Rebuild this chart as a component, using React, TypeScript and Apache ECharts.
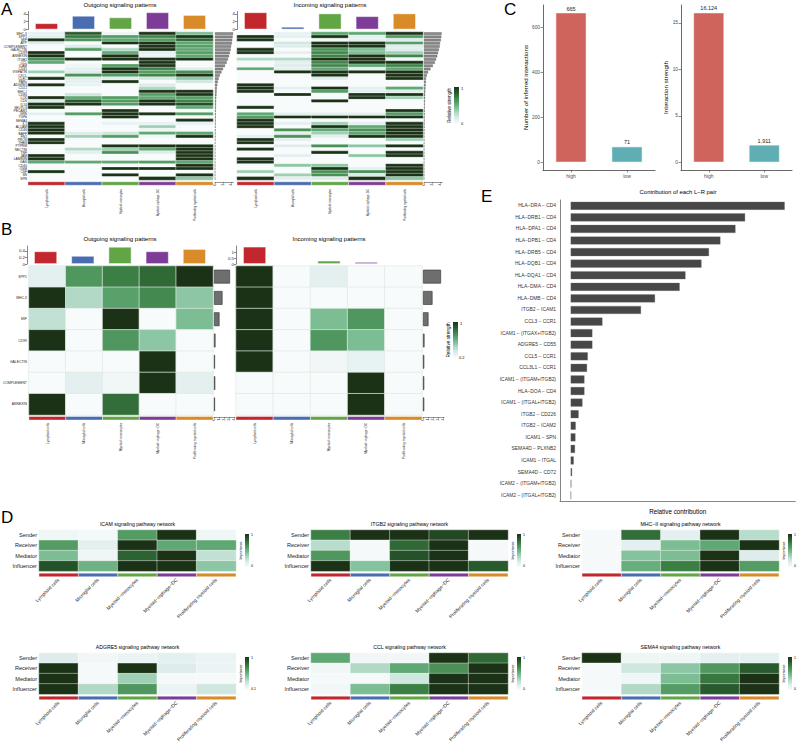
import React, { useEffect, useRef } from "react";
import * as echarts from "echarts";

const FONT = "'Liberation Sans', Arial, Helvetica, sans-serif";

const cellTypes = ["Lymphoid cells", "Microglial cells", "Myeloid−monocytes", "Myeloid−mphage−DC", "Proliferating myeloid cells"];
const cellColors = ["#C1272D", "#4A6DB2", "#62A545", "#7D3C98", "#D98A29"];
const heatPalette = ["#f8fbfb", "#e0eeee", "#b7dccb", "#82c19b", "#5aa36c", "#3d8146", "#28582c", "#1b3217"];

// Panel A
const aPathways = ["MHC-II", "SPP1", "MIF", "APP", "COMPLEMENT", "GALECTIN", "CD99", "ANNEXIN", "ITGB2", "CCL", "ICAM", "CD45", "VISFATIN", "CXCL", "CLEC", "PARs", "ADGRE5", "CD22", "MHC-I", "CD86", "LCK", "CD6", "IL16", "SELPLG", "PECAM1", "GRN", "TGFb", "SEMA4", "IL1", "ALCAM", "CD46", "BAFF", "FN1", "PROS", "THBS", "PTPRM", "NECTIN", "TNF", "JAM", "LAMININ", "GAS", "CD40", "OSM", "CSF", "SN", "SPN"];
const aOutgoing = [
  [0.1, 0.85, 0.05, 1, 0.45], [0.12, 0.75, 0.6, 0.7, 1], [1, 0.65, 0.55, 0.6, 0.8], [0.15, 0, 1, 1, 0.55],
  [0, 0.15, 0, 1, 0.6], [0, 0.6, 0.3, 1, 0.55], [1, 0, 0.55, 0.12, 0.6], [1, 0, 1, 0.08, 0.55],
  [0.65, 1, 1, 1, 1], [0.55, 0, 0, 1, 0], [0, 0.05, 0.6, 1, 0], [0, 0.12, 1, 0.7, 0.15],
  [0.35, 0.15, 1, 0.6, 0.65], [0, 0.65, 0.6, 0.7, 1], [1, 0.15, 0.15, 0.2, 0.4], [0, 0.12, 1, 0, 0.2],
  [1, 0.1, 0, 0.15, 0], [0, 0, 0, 0.3, 0], [0, 0, 0, 1, 1], [0, 0.2, 0, 0.6, 1],
  [1, 0.55, 0.6, 0.55, 0.6], [0.15, 0.85, 0.6, 1, 0.7], [1, 1, 0.6, 1, 0.9], [1, 0, 0, 0, 0.55],
  [0, 0, 1, 0, 0], [0.12, 0.6, 1, 1, 0.6], [0, 0, 1, 0, 0], [0, 0, 0, 0, 1],
  [1, 0, 0.1, 0.1, 0.1], [1, 0, 0, 0.35, 0], [1, 0, 0, 0.05, 0], [1, 0.15, 0.2, 0.55, 0.55],
  [0, 0.35, 0.6, 0.05, 1], [1, 0, 0, 0, 0], [1, 0, 0, 0, 0], [0, 0, 1, 1, 1],
  [0, 0.3, 0.35, 0.55, 1], [0, 0.12, 0.65, 0.15, 1], [1, 0, 0, 0, 1], [1, 0, 0, 0, 1],
  [0.55, 0.55, 0.55, 0.6, 0.55], [0, 0, 0, 0, 1], [0, 0, 1, 1, 1], [1, 0, 0, 0, 0],
  [0, 0, 1, 0, 1], [0, 0, 0, 1, 0.4],
];
const aIncoming = [
  [0, 0.1, 0.55, 0.55, 1], [1, 0.12, 1, 0.12, 0.6], [1, 0, 0.05, 0.12, 0.15], [0, 0.2, 1, 1, 0.6],
  [0, 0.15, 1, 1, 0.15], [1, 0, 0.65, 0.45, 0.15], [1, 0.12, 0.7, 0.45, 0.35], [0, 0, 0.7, 1, 0.7],
  [0.3, 0.3, 1, 1, 0.05], [0.02, 0.12, 0.7, 1, 1], [0, 0.15, 0.7, 0.55, 0.7], [0.55, 0.12, 0.55, 0.12, 0.55],
  [0, 1, 1, 1, 1], [0, 0, 1, 0, 1], [0, 0, 0.15, 0, 1], [0, 0, 0, 0, 0],
  [1, 0, 0, 0, 0], [1, 0.12, 1, 0.12, 0.55], [1, 0, 0.6, 0.12, 0.15], [0, 1, 0, 1, 1],
  [0, 0, 0, 1, 0.35], [0, 0, 1, 0, 0], [0, 0, 0, 0, 0], [1, 0, 0, 0, 0],
  [0, 0, 0, 0, 1], [0.55, 0.12, 0.12, 0.12, 0.6], [0.6, 1, 1, 1, 1], [1, 0, 0, 0, 0],
  [1, 0.12, 0.35, 0.12, 1], [1, 0, 1, 0.55, 1], [0, 0.65, 0.55, 0.65, 1], [0, 0.12, 0.35, 0.55, 1],
  [0.12, 0.65, 0.12, 1, 1], [1, 0.12, 0, 0, 0.35], [1, 0, 0, 0, 0], [0, 0.15, 0.65, 0.4, 1],
  [1, 0, 0, 0, 0], [0, 0, 1, 0, 1], [0, 0.12, 0, 0.4, 1], [1, 0, 0, 0, 0],
  [1, 0, 0, 0, 0], [0, 0.4, 0.4, 0, 1], [0, 0, 1, 0.12, 1], [0.35, 0, 0.65, 0.65, 1],
  [0, 0.35, 0.65, 0.15, 1], [1, 0.12, 0.15, 1, 0.4],
];
const aOutTotals = [4.5, 4.4, 4.3, 4.2, 4.0, 3.9, 3.7, 3.5, 3.2, 2.9, 2.5, 2.0, 1.6, 1.2, 0.9, 0.7, 0.55, 0.45, 0.4, 0.35, 0.3, 0.28, 0.25, 0.22, 0.2, 0.18, 0.16, 0.15, 0.14, 0.13, 0.12, 0.11, 0.1, 0.09, 0.08, 0.08, 0.07, 0.06, 0.06, 0.05, 0.05, 0.04, 0.04, 0.03, 0.03, 0.02];
const aInTotals = [4.4, 4.3, 4.2, 4.0, 3.9, 3.7, 3.5, 3.3, 3.0, 2.7, 2.2, 1.6, 1.0, 0.7, 0.5, 0.45, 0.4, 0.35, 0.3, 0.28, 0.25, 0.22, 0.2, 0.18, 0.16, 0.15, 0.14, 0.13, 0.12, 0.11, 0.1, 0.09, 0.08, 0.08, 0.07, 0.06, 0.06, 0.05, 0.05, 0.04, 0.04, 0.03, 0.03, 0.03, 0.02, 0.02];
const aOutColTotals = [1.6, 3.5, 3.1, 4.4, 3.7];
const aInColTotals = [4.4, 0.7, 4.1, 3.4, 4.1];
const aTopTicks = [0, 2, 4];
const aSideTicks = [0, 2, 4];

// Panel B
const bPathways = ["SPP1", "MHC-II", "MIF", "CD99", "GALECTIN", "COMPLEMENT", "ANNEXIN"];
const bOutgoing = [
  [0.12, 0.62, 0.72, 0.8, 1],
  [1, 0.3, 0.58, 0.68, 0.4],
  [0.25, 0, 1, 0, 0.45],
  [1, 0, 0.62, 0.4, 0],
  [0, 0, 0, 1, 0],
  [0, 0.12, 0.04, 1, 0.12],
  [1, 0, 0.78, 0, 0],
];
const bIncoming = [
  [1, 0, 0.12, 0, 0],
  [1, 0, 0, 0, 0],
  [1, 0, 0.45, 0.62, 0],
  [1, 0, 0.62, 0.45, 0],
  [1, 0, 0.04, 0.1, 0],
  [0, 0, 0, 1, 0],
  [0, 0, 0, 1, 0],
];
const bOutTotals = [3.2, 1.7, 1.1, 0.3, 0.2, 0.25, 0.2];
const bInTotals = [3.6, 1.9, 1.1, 0.3, 0.25, 0.25, 0.25];
const bOutColTotals = [0.39, 0.25, 0.53, 0.39, 0.46];
const bInColTotals = [1.44, 0.02, 0.28, 0.17, 0.02];
const bOutTopTicks = [0, 0.2, 0.4];
const bInTopTicks = [0, 0.5, 1];
const bSideTicks = [0, 1, 2, 3, 4];

// Panel C
const groups = ["high", "low"];
const interactionCounts = [665, 71];
const interactionStrengths = [16.124, 1.911];
const groupColors = ["#CF645C", "#5FAEB3"];
const countTicks = [0, 200, 400, 600];
const strengthTicks = [0, 5, 10, 15];

// Panel E
const lrPairs = ["HLA−DRA − CD4", "HLA−DRB1 − CD4", "HLA−DPA1 − CD4", "HLA−DPB1 − CD4", "HLA−DRB5 − CD4", "HLA−DQB1 − CD4", "HLA−DQA1 − CD4", "HLA−DMA − CD4", "HLA−DMB − CD4", "ITGB2 − ICAM1", "CCL3 − CCR1", "ICAM1 − (ITGAX+ITGB2)", "ADGRE5 − CD55", "CCL5 − CCR1", "CCL3L1 − CCR1", "ICAM1 − (ITGAM+ITGB2)", "HLA−DOA − CD4", "ICAM1 − (ITGAL+ITGB2)", "ITGB2 − CD226", "ITGB2 − ICAM2", "ICAM1 − SPN", "SEMA4D − PLXNB2", "ICAM1 − ITGAL", "SEMA4D − CD72", "ICAM2 − (ITGAM+ITGB2)", "ICAM2 − (ITGAL+ITGB2)"];
const lrContrib = [0.1404, 0.1144, 0.1081, 0.0982, 0.0907, 0.0858, 0.0753, 0.0715, 0.0553, 0.0461, 0.0208, 0.0142, 0.0142, 0.0112, 0.0107, 0.009, 0.009, 0.0077, 0.0052, 0.0033, 0.0031, 0.0028, 0.002, 0.0009, 0.0004, 0.0003];

// Panel D
const roleLabels = ["Sender", "Receiver", "Mediator", "Influencer"];
const dTitles = ["ICAM signaling pathway network", "ITGB2 signaling pathway network", "MHC−II signaling pathway network", "ADGRE5 signaling pathway network", "CCL signaling pathway network", "SEMA4 signaling pathway network"];
const dLegendMin = ["0", "0", "0", "0.1", "0", "0"];
const icamRoles = [[0.06, 0.03, 0.6, 1, 0.06], [0.6, 0.12, 1, 0.55, 0.55], [0.45, 0.05, 0.82, 1, 0.25], [0.88, 0.5, 1, 1, 0.4]];
const itgb2Roles = [[0.72, 1, 1, 0.92, 1], [0.28, 0.02, 0.8, 1, 0.02], [0.62, 0.02, 0.88, 1, 0.02], [1, 0.42, 1, 1, 0.85]];
const mhc2Roles = [[0.02, 0.78, 0.12, 1, 0.28], [0.02, 0.12, 0.45, 0.55, 1], [0.02, 0.42, 0.45, 1, 0.15], [0.02, 0.52, 0.72, 1, 0.6]];
const adgre5Roles = [[0.15, 0.04, 0.08, 0.12, 0.08], [1, 0.02, 1, 0.15, 0.08], [1, 0.02, 0.35, 0.02, 0.02], [1, 0.3, 0.62, 0.08, 0.2]];
const cclRoles = [[0.55, 0.04, 0.04, 1, 0.8], [0.04, 0.3, 0.55, 0.65, 1], [0.02, 0.02, 0.2, 1, 1], [0.04, 0.45, 0.72, 1, 1]];
const sema4Roles = [[1, 0.06, 0.06, 0.12, 0.12], [0.02, 0.2, 0.4, 0.62, 0.85], [0.02, 0.06, 0.45, 0.75, 1], [0.02, 0.3, 0.6, 0.85, 1]];

function buildOption() {
  const grid: any[] = [];
  const xAxis: any[] = [];
  const yAxis: any[] = [];
  const series: any[] = [];
  const graphic: any[] = [];
  const heatIdx: number[] = [];

  const txt = (x: number, y: number, text: string, size: number, o: any = {}) => ({
    type: "text", x, y, rotation: o.rotation || 0, silent: true,
    style: { text, fontSize: size, fontFamily: FONT, fill: o.fill || "#000", align: o.align || "left", verticalAlign: o.va || "top" },
  });

  const addGrid = (left: number, top: number, width: number, height: number) => {
    grid.push({ left, top, width, height, containLabel: false });
    return grid.length - 1;
  };

  const addHeatmap = (o: any) => {
    const gi = addGrid(o.left, o.top, o.width, o.height);
    const xi = xAxis.length;
    xAxis.push({
      type: "category", gridIndex: gi, data: cellTypes,
      axisLine: { show: false }, axisTick: { show: false }, splitLine: { show: false },
      axisLabel: { show: true, interval: 0, rotate: o.colRotate, margin: o.colMargin, fontSize: o.colSize, fontFamily: FONT, color: "#222" },
    });
    const yi = yAxis.length;
    yAxis.push({
      type: "category", gridIndex: gi, data: o.rows, inverse: true,
      axisLine: { show: false }, axisTick: { show: false }, splitLine: { show: false },
      axisLabel: { show: o.rowLabels, interval: 0, margin: o.rowMargin, fontSize: o.rowSize, fontFamily: FONT, color: "#222" },
    });
    const data: any[] = [];
    o.values.forEach((row: number[], r: number) => row.forEach((v: number, c: number) => data.push([c, r, v])));
    heatIdx.push(series.length);
    series.push({
      type: "heatmap", xAxisIndex: xi, yAxisIndex: yi, data, silent: true,
      itemStyle: { borderColor: o.border || "#ffffff", borderWidth: o.borderWidth ?? 0.5 },
    });
    const nRows = o.rows.length;
    series.push({
      type: "custom", xAxisIndex: xi, yAxisIndex: yi, silent: true, clip: false,
      data: cellTypes.map((_, i) => [i, nRows - 1]),
      renderItem: (_p: any, api: any) => {
        const i = api.value(0);
        const c = api.coord([i, api.value(1)]);
        const s = api.size([1, 1]);
        return {
          type: "rect",
          shape: { x: c[0] - s[0] / 2, y: c[1] + s[1] / 2 + o.annoGap, width: s[0], height: o.annoH },
          style: { fill: cellColors[i], stroke: "#ffffff", lineWidth: 0.4 },
        };
      },
    });
  };

  const addTopBars = (left: number, top: number, width: number, height: number, vals: number[], max: number, ticks: number[]) => {
    const gi = addGrid(left, top, width, height);
    const xi = xAxis.length;
    xAxis.push({ type: "category", gridIndex: gi, data: cellTypes, show: false });
    const yi = yAxis.length;
    yAxis.push({
      type: "value", gridIndex: gi, min: 0, max,
      axisLine: { show: true, lineStyle: { color: "#333", width: 0.6 } },
      axisTick: { show: true, length: 2, lineStyle: { color: "#333", width: 0.6 }, customValues: ticks },
      axisLabel: { fontSize: 4.3, margin: 2, fontFamily: FONT, color: "#222", customValues: ticks },
      splitLine: { show: false },
    });
    series.push({
      type: "bar", xAxisIndex: xi, yAxisIndex: yi, barWidth: "62%", silent: true,
      data: vals.map((v, i) => ({ value: v, itemStyle: { color: cellColors[i] } })),
      itemStyle: { borderColor: "rgba(255,255,255,0.6)", borderWidth: 0.8 },
    });
  };

  const addSideBars = (left: number, top: number, width: number, height: number, rows: string[], vals: number[], max: number, ticks: number[], barWidth: string, fill: string, stroke: string, bw: number) => {
    const gi = addGrid(left, top, width, height);
    const xi = xAxis.length;
    xAxis.push({
      type: "value", gridIndex: gi, min: 0, max, offset: 2,
      axisLine: { show: true, lineStyle: { color: "#333", width: 0.5 } },
      axisTick: { show: true, length: 1.5, lineStyle: { color: "#333", width: 0.5 }, customValues: ticks },
      axisLabel: { fontSize: 3.4, margin: 1.5, rotate: 90, fontFamily: FONT, color: "#222", customValues: ticks },
      splitLine: { show: false },
    });
    const yi = yAxis.length;
    yAxis.push({ type: "category", gridIndex: gi, data: rows, inverse: true, show: false });
    series.push({
      type: "bar", xAxisIndex: xi, yAxisIndex: yi, barWidth, silent: true, data: vals,
      itemStyle: { color: fill, borderColor: stroke, borderWidth: bw },
    });
  };

  const legendBar = (x: number, y: number, w: number, h: number) => ({
    type: "rect", silent: true, shape: { x, y, width: w, height: h },
    style: {
      fill: new echarts.graphic.LinearGradient(0, 0, 0, 1,
        heatPalette.slice().reverse().map((c, i, arr) => ({ offset: i / (arr.length - 1), color: c }))),
    },
  });

  // ---------- Panel A ----------
  graphic.push(txt(1, 1, "A", 17));
  graphic.push(txt(120, 5, "Outgoing signaling patterns", 6, { align: "center", va: "middle" }));
  graphic.push(txt(330, 5, "Incoming signaling patterns", 6, { align: "center", va: "middle" }));
  addTopBars(28, 11.5, 185, 18, aOutColTotals, 4.6, aTopTicks);
  addTopBars(237, 11.5, 186, 18, aInColTotals, 4.6, aTopTicks);
  addHeatmap({ left: 28, top: 32, width: 185, height: 148, rows: aPathways, values: aOutgoing, rowLabels: true, rowSize: 3.3, rowMargin: 1, colRotate: 90, colMargin: 9, colSize: 2.8, annoGap: 1.8, annoH: 3.5, borderWidth: 0.35 });
  addHeatmap({ left: 237, top: 32, width: 186, height: 148, rows: aPathways, values: aIncoming, rowLabels: false, rowSize: 3.3, rowMargin: 1, colRotate: 90, colMargin: 9, colSize: 2.8, annoGap: 1.8, annoH: 3.5, borderWidth: 0.35 });
  addSideBars(215, 32, 18.4, 148, aPathways, aOutTotals, 4.6, aSideTicks, "80%", "#8a8a8a", "#444", 0.3);
  addSideBars(424, 32, 18.4, 148, aPathways, aInTotals, 4.6, aSideTicks, "80%", "#8a8a8a", "#444", 0.3);
  graphic.push(legendBar(454, 87, 5, 37));
  graphic.push(txt(461, 88, "1", 4, { va: "middle" }));
  graphic.push(txt(461, 123, "0", 4, { va: "middle" }));
  graphic.push(txt(449, 105.5, "Relative strength", 4.7, { align: "center", va: "middle", rotation: Math.PI / 2 }));

  // ---------- Panel B ----------
  graphic.push(txt(1, 221, "B", 17));
  graphic.push(txt(120, 239, "Outgoing signaling patterns", 6, { align: "center", va: "middle" }));
  graphic.push(txt(329, 239, "Incoming signaling patterns", 6, { align: "center", va: "middle" }));
  addTopBars(27, 246.1, 186, 17.9, bOutColTotals, 0.55, bOutTopTicks);
  addTopBars(236, 246, 186, 18, bInColTotals, 1.5, bInTopTicks);
  addHeatmap({ left: 27, top: 266, width: 186, height: 149, rows: bPathways, values: bOutgoing, rowLabels: true, rowSize: 3.4, rowMargin: 2, colRotate: 90, colMargin: 8, colSize: 3.2, annoGap: 1.5, annoH: 3.5, border: "#dfe9e2", borderWidth: 0.7 });
  addHeatmap({ left: 236, top: 266, width: 186, height: 149, rows: bPathways, values: bIncoming, rowLabels: false, rowSize: 3.4, rowMargin: 2, colRotate: 90, colMargin: 8, colSize: 3.2, annoGap: 1.5, annoH: 3.5, border: "#dfe9e2", borderWidth: 0.7 });
  addSideBars(214, 266, 21, 149, bPathways, bOutTotals, 4.2, bSideTicks, "65%", "#6e6e6e", "#333", 0.6);
  addSideBars(423, 266, 21, 149, bPathways, bInTotals, 4.2, bSideTicks, "65%", "#6e6e6e", "#333", 0.6);
  graphic.push(legendBar(453, 322, 5, 36));
  graphic.push(txt(460, 323, "1", 4, { va: "middle" }));
  graphic.push(txt(459, 357, "0.2", 4, { va: "middle" }));
  graphic.push(txt(448, 340, "Relative strength", 4.7, { align: "center", va: "middle", rotation: Math.PI / 2 }));

  // ---------- Panel C ----------
  graphic.push(txt(504, 1, "C", 17));
  const addGroupBars = (left: number, width: number, vals: number[], min: number, max: number, ticks: number[], name: string, nameGap: number) => {
    const gi = addGrid(left, 5, width, 165);
    const xi = xAxis.length;
    xAxis.push({
      type: "category", gridIndex: gi, data: groups,
      axisLine: { show: true, onZero: false, lineStyle: { color: "#444", width: 0.8 } },
      axisTick: { show: true, alignWithLabel: true, length: 2.5, lineStyle: { color: "#444", width: 0.6 } },
      axisLabel: { fontSize: 5, margin: 3, fontFamily: FONT, color: "#4d4d4d" },
    });
    const yi = yAxis.length;
    yAxis.push({
      type: "value", gridIndex: gi, min, max,
      axisLine: { show: true, lineStyle: { color: "#444", width: 0.8 } },
      axisTick: { show: true, length: 2.5, lineStyle: { color: "#444", width: 0.6 }, customValues: ticks },
      axisLabel: { fontSize: 4.8, margin: 3, fontFamily: FONT, color: "#4d4d4d", customValues: ticks },
      splitLine: { show: false },
      name, nameLocation: "middle", nameGap, nameRotate: 90,
      nameTextStyle: { fontSize: 6.2, fontFamily: FONT, color: "#000" },
    });
    series.push({
      type: "bar", xAxisIndex: xi, yAxisIndex: yi, barWidth: 31, silent: true,
      data: vals.map((v, i) => ({ value: v, itemStyle: { color: groupColors[i] } })),
      itemStyle: { borderColor: "rgba(255,255,255,0.7)", borderWidth: 0.8 },
      label: { show: true, position: "top", distance: 1, fontSize: 5.5, fontFamily: FONT, color: "#222" },
    });
  };
  addGroupBars(543, 112, interactionCounts, -33.25, 698.25, countTicks, "Number of inferred interactions", 14);
  addGroupBars(681, 111, interactionStrengths, -0.806, 16.93, strengthTicks, "Interaction strength", 12);

  // ---------- Panel E ----------
  graphic.push(txt(481, 188, "E", 17));
  graphic.push(txt(678, 192, "Contribution of each L−R pair", 5.9, { align: "center", va: "middle" }));
  {
    const maxV = lrContrib[0];
    const gi = addGrid(560, 200, 235.4, 301);
    const xi = xAxis.length;
    xAxis.push({
      type: "value", gridIndex: gi, min: -0.05 * maxV, max: 1.05 * maxV,
      axisLine: { show: true, onZero: false, lineStyle: { color: "#666", width: 0.8 } },
      axisTick: { show: false }, axisLabel: { show: false }, splitLine: { show: false },
      name: "Relative contribution", nameLocation: "middle", nameGap: 7,
      nameTextStyle: { fontSize: 6.3, fontFamily: FONT, color: "#000" },
    });
    const yi = yAxis.length;
    yAxis.push({
      type: "category", gridIndex: gi, data: lrPairs, inverse: true,
      axisLine: { show: true, onZero: false, lineStyle: { color: "#666", width: 0.8 } },
      axisTick: { show: false },
      axisLabel: { interval: 0, fontSize: 4.9, margin: 4, fontFamily: FONT, color: "#333" },
    });
    series.push({
      type: "bar", xAxisIndex: xi, yAxisIndex: yi, barWidth: 8, silent: true, data: lrContrib,
      itemStyle: { color: "#474747", borderColor: "#777", borderWidth: 0.3 },
    });
  }

  // ---------- Panel D ----------
  graphic.push(txt(1, 509, "D", 17));
  const dValues = [icamRoles, itgb2Roles, mhc2Roles, adgre5Roles, cclRoles, sema4Roles];
  const dLefts = [39, 311, 582];
  const dTops = [530, 653];
  const dW = 197, dH = 41.2;
  dValues.forEach((vals, k) => {
    const left = dLefts[k % 3];
    const top = dTops[Math.floor(k / 3)];
    graphic.push(txt(left + dW / 2, top - 6, dTitles[k], 5.2, { align: "center", va: "middle" }));
    addHeatmap({ left, top, width: dW, height: dH, rows: roleLabels, values: vals, rowLabels: true, rowSize: 5.6, rowMargin: 2, colRotate: 45, colMargin: 8, colSize: 4.8, annoGap: 2, annoH: 3.5, border: "#ffffff", borderWidth: 0.4 });
    const bx = left + dW + 9;
    graphic.push(legendBar(bx, top + 4, 4, 33));
    graphic.push(txt(bx + 6, top + 5, "1", 3.6, { va: "middle" }));
    graphic.push(txt(bx + 6, top + 36, dLegendMin[k], 3.6, { va: "middle" }));
    graphic.push(txt(left + dW + 5, top + 20.5, "Importance", 3.6, { align: "center", va: "middle", rotation: Math.PI / 2 }));
  });

  return {
    animation: false,
    backgroundColor: "#ffffff",
    textStyle: { fontFamily: FONT },
    grid, xAxis, yAxis, series, graphic,
    visualMap: [{
      type: "continuous", show: false, min: 0, max: 1, dimension: 2,
      seriesIndex: heatIdx, inRange: { color: heatPalette },
    }],
  };
}

export default function App() {
  const ref = useRef<HTMLDivElement>(null);
  useEffect(() => {
    document.body.style.margin = "0";
    const chart = echarts.init(ref.current!, null, { renderer: "svg" });
    chart.setOption(buildOption() as any);
    return () => chart.dispose();
  }, []);
  return <div ref={ref} style={{ width: 797, height: 752 }} />;
}
